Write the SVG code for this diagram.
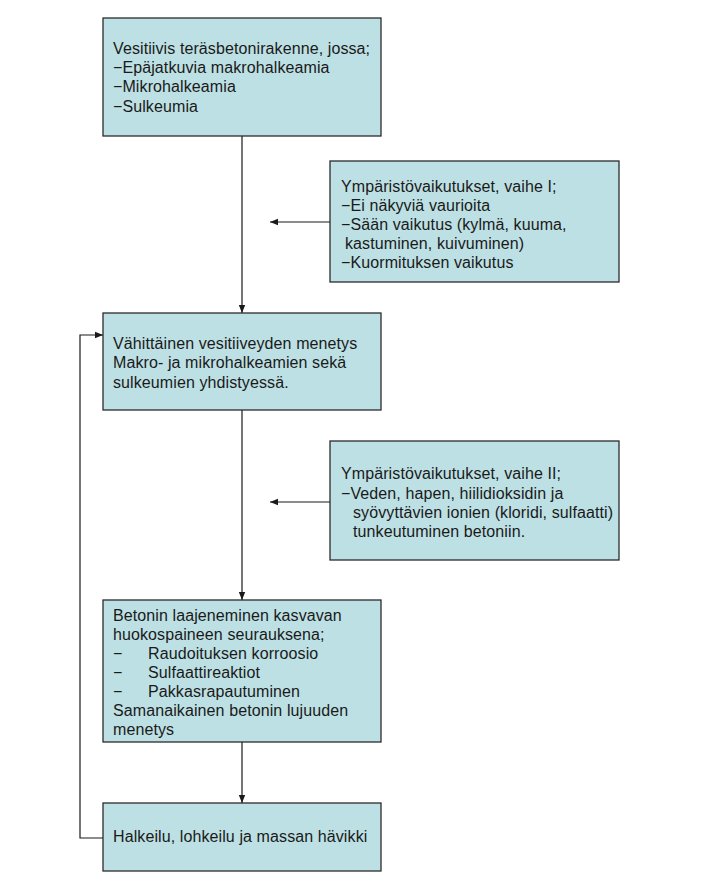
<svg xmlns="http://www.w3.org/2000/svg" width="720" height="891" viewBox="0 0 720 891">
<defs>
<style>
.box{fill:#bde0e4;stroke:#2b2b2b;stroke-width:1.3}
.t{font-family:"Liberation Sans",Arial,sans-serif;font-size:16px;letter-spacing:0.1px;fill:#1a1a1a}
.c{fill:none;stroke:#1a1a1a;stroke-width:1.2}
</style>
<marker id="ah" viewBox="0 0 10 10" refX="10" refY="5" markerWidth="8" markerHeight="8" orient="auto" markerUnits="userSpaceOnUse">
<path d="M0,1 L10,5 L0,9 z" fill="#1a1a1a"/>
</marker>
</defs>
<rect width="720" height="891" fill="#ffffff"/>
<g id="connectors">
<line class="c" x1="242" y1="136" x2="242" y2="313" marker-end="url(#ah)"/>
<line class="c" x1="330" y1="222" x2="270" y2="222" marker-end="url(#ah)"/>
<line class="c" x1="242" y1="410" x2="242" y2="600" marker-end="url(#ah)"/>
<line class="c" x1="330" y1="502" x2="270" y2="502" marker-end="url(#ah)"/>
<line class="c" x1="242" y1="742" x2="242" y2="803" marker-end="url(#ah)"/>
<polyline class="c" points="103,838 80,838 80,335 103,335" marker-end="url(#ah)"/>
</g>
<g id="n1">
<rect class="box" x="103" y="18" width="278" height="118"/>
<text class="t" x="113" y="54">Vesitiivis teräsbetonirakenne, jossa;</text>
<text class="t" x="113" y="73">−Epäjatkuvia makrohalkeamia</text>
<text class="t" x="113" y="92">−Mikrohalkeamia</text>
<text class="t" x="113" y="112">−Sulkeumia</text>
</g>
<g id="n2">
<rect class="box" x="330" y="161" width="289" height="121"/>
<text class="t" x="341" y="192">Ympäristövaikutukset, vaihe I;</text>
<text class="t" x="341" y="211">−Ei näkyviä vaurioita</text>
<text class="t" x="341" y="230">−Sään vaikutus (kylmä, kuuma,</text>
<text class="t" x="345" y="249">kastuminen, kuivuminen)</text>
<text class="t" x="341" y="268">−Kuormituksen vaikutus</text>
</g>
<g id="n3">
<rect class="box" x="103" y="313" width="278" height="97"/>
<text class="t" x="113" y="349">Vähittäinen vesitiiveyden menetys</text>
<text class="t" x="113" y="368">Makro- ja mikrohalkeamien sekä</text>
<text class="t" x="113" y="388">sulkeumien yhdistyessä.</text>
</g>
<g id="n4">
<rect class="box" x="330" y="441" width="289" height="119"/>
<text class="t" x="341" y="479">Ympäristövaikutukset, vaihe II;</text>
<text class="t" x="341" y="499">−Veden, hapen, hiilidioksidin ja</text>
<text class="t" x="353" y="518">syövyttävien ionien (kloridi, sulfaatti)</text>
<text class="t" x="353" y="537">tunkeutuminen betoniin.</text>
</g>
<g id="n5">
<rect class="box" x="103" y="600" width="278" height="142"/>
<text class="t" x="113" y="621">Betonin laajeneminen kasvavan</text>
<text class="t" x="113" y="640">huokospaineen seurauksena;</text>
<text class="t" x="113" y="659">−</text><text class="t" x="148" y="659">Raudoituksen korroosio</text>
<text class="t" x="113" y="678">−</text><text class="t" x="148" y="678">Sulfaattireaktiot</text>
<text class="t" x="113" y="697">−</text><text class="t" x="148" y="697">Pakkasrapautuminen</text>
<text class="t" x="113" y="716">Samanaikainen betonin lujuuden</text>
<text class="t" x="113" y="735">menetys</text>
</g>
<g id="n6">
<rect class="box" x="103" y="803" width="278" height="68"/>
<text class="t" x="113" y="842">Halkeilu, lohkeilu ja massan hävikki</text>
</g>
</svg>
